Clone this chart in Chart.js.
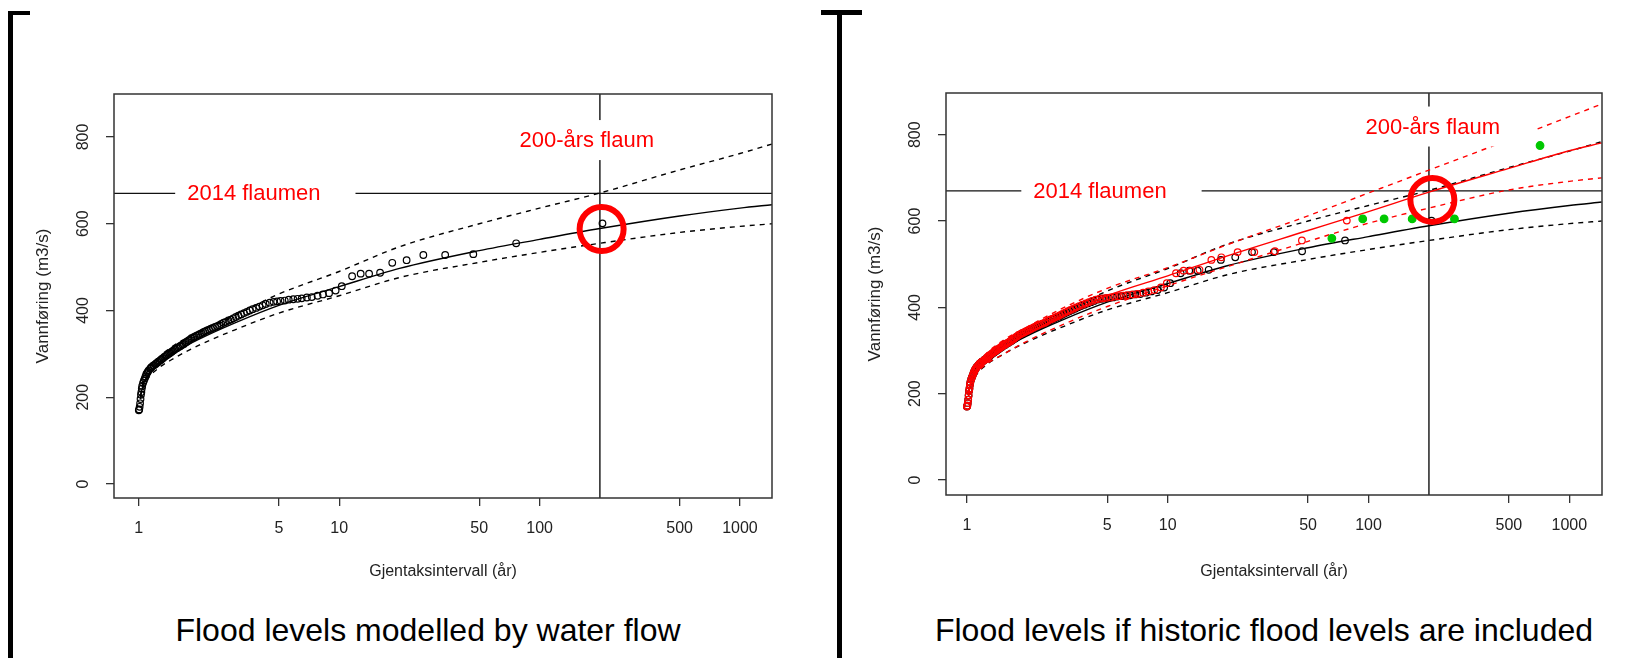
<!DOCTYPE html>
<html lang="no">
  <head>
    <meta charset="UTF-8" />
    <title>Flaumfrekvens</title>
    <script src="https://cdn.jsdelivr.net/npm/chart.js@4.4.1/dist/chart.umd.min.js"></script>
    <style>
      body { margin: 0; width: 1644px; height: 658px; position: relative; overflow: hidden; background: #fff;
             font-family: "Liberation Sans", Arial, sans-serif; }
      .bar { position: absolute; background: #000; }
      .panel { position: absolute; top: 0; }
      .caption { position: absolute; top: 612px; width: 760px; text-align: center; font-size: 32px; line-height: 36px;
                 color: #000; white-space: nowrap; }
    </style>
  </head>
  <body>
    <!-- brackets round the two pictures -->
    <div class="bar" style="left:8px;top:11px;width:5px;height:647px"></div>
    <div class="bar" style="left:8px;top:11px;width:22px;height:4px"></div>
    <div class="bar" style="left:837px;top:10px;width:5px;height:648px"></div>
    <div class="bar" style="left:821px;top:10px;width:41px;height:5px"></div>

    <canvas id="left" class="panel" style="left:0" width="800" height="581"></canvas>
    <canvas id="right" class="panel" style="left:830px" width="800" height="581"></canvas>

    <div class="caption" style="left:48px">Flood levels modelled by water flow</div>
    <div class="caption" style="left:884px">Flood levels if historic flood levels are included</div>

    <script>
      const xTicks = [1, 5, 10, 50, 100, 500, 1000];
      const yTicks = [0, 200, 400, 600, 800];

      // annual maxima: return period (år) and flow (m3/s)
      const obsT = [1.00, 1.005, 1.01, 1.015, 1.02, 1.025, 1.03, 1.035, 1.04, 1.05,
                    1.06, 1.07, 1.08, 1.09, 1.10, 1.11, 1.12, 1.14, 1.15, 1.16,
                    1.18, 1.19, 1.21, 1.22, 1.24, 1.25, 1.27, 1.29, 1.30, 1.32,
                    1.34, 1.36, 1.38, 1.40, 1.42, 1.44, 1.46, 1.48, 1.50, 1.52,
                    1.55, 1.57, 1.60, 1.62, 1.65, 1.68, 1.71, 1.74, 1.77, 1.80,
                    1.83, 1.87, 1.90, 1.94, 1.98, 2.02, 2.06, 2.10, 2.14, 2.19,
                    2.24, 2.29, 2.34, 2.40, 2.46, 2.52, 2.58, 2.65, 2.72, 2.80,
                    2.88, 2.96, 3.05, 3.14, 3.24, 3.35, 3.46, 3.58, 3.70, 3.85,
                    4.00, 4.15, 4.30, 4.50, 4.70, 4.90, 5.10, 5.35, 5.60, 5.90,
                    6.20, 6.50, 6.90, 7.30, 7.80, 8.30, 8.90, 9.60, 10.3, 11.6,
                    12.8, 14.1, 16.0, 18.4, 21.7, 26.3, 33.8, 46.7, 76.4, 206];
      const obsQ = [170, 172, 178, 186, 196, 206, 212, 220, 226, 233,
                    238, 243, 248, 253, 256, 259, 262, 266, 268, 270,
                    273, 274, 276, 278, 280, 282, 284, 286, 288, 290,
                    293, 295, 297, 299, 301, 303, 305, 307, 309, 311,
                    313, 315, 317, 319, 321, 323, 326, 328, 331, 333,
                    336, 338, 340, 342, 344, 346, 348, 350, 352, 354,
                    356, 358, 360, 362, 364, 366, 369, 372, 374, 377,
                    379, 382, 385, 388, 391, 394, 397, 400, 403, 406,
                    409, 412, 415, 418, 420, 421, 422, 423, 425, 426,
                    427, 428, 430, 431, 434, 437, 440, 446, 456, 479,
                    485, 485, 487, 510, 516, 528, 528, 530, 555, 601];
      // same flows, return period when the historic floods are included
      const obsHistT = [1.00, 1.005, 1.01, 1.015, 1.02, 1.025, 1.03, 1.035, 1.04, 1.05,
                        1.06, 1.07, 1.08, 1.09, 1.10, 1.11, 1.12, 1.14, 1.15, 1.16,
                        1.18, 1.19, 1.21, 1.22, 1.24, 1.25, 1.27, 1.28, 1.29, 1.31,
                        1.33, 1.35, 1.37, 1.39, 1.41, 1.43, 1.45, 1.47, 1.49, 1.51,
                        1.54, 1.56, 1.59, 1.61, 1.64, 1.67, 1.70, 1.72, 1.75, 1.78,
                        1.81, 1.85, 1.88, 1.92, 1.96, 2.00, 2.04, 2.08, 2.12, 2.16,
                        2.21, 2.26, 2.31, 2.37, 2.43, 2.48, 2.54, 2.61, 2.68, 2.75,
                        2.83, 2.91, 2.99, 3.08, 3.18, 3.28, 3.39, 3.50, 3.62, 3.76,
                        3.91, 4.05, 4.20, 4.39, 4.58, 4.77, 4.96, 5.20, 5.44, 5.72,
                        6.01, 6.29, 6.68, 7.06, 7.54, 8.01, 8.58, 9.25, 9.90, 11.0,
                        12.0, 13.0, 14.4, 16.5, 18.5, 22.3, 27.0, 34.2, 46.6, 78.0];
      // historic floods
      const histT = [65.7, 93.6, 119.6, 165, 268, 715];
      const histQ = [560, 605, 605, 605, 605, 775];

      // fitted curves with confidence bands
      const fitT = [1.02, 1.05, 1.1, 1.2, 1.5, 2, 3, 5, 10, 20, 50, 100, 200, 500, 1000, 1450];
      const fitQ = [200, 228, 248, 270, 303, 334, 371, 412, 455, 497, 538, 564, 589, 618, 636, 644];
      const fitUpper = [205, 235, 258, 282, 320, 350, 388, 438, 490, 547, 600, 636, 671, 724, 762, 784];
      const fitLower = [195, 221, 240, 260, 290, 320, 355, 394, 434, 476, 511, 534, 555, 580, 594, 600];
      const histFitQ = [200, 230, 252, 272, 305, 338, 380, 427, 473, 520, 578, 622, 667, 722, 763, 781];
      const histFitUpper = [205, 238, 262, 285, 322, 355, 398, 444, 492, 546, 612, 665, 718, 788, 842, 871];
      const histFitLower = [195, 222, 242, 262, 290, 322, 360, 402, 450, 495, 553, 595, 630, 672, 692, 700];

      const flood2014 = 670;
      const returnPeriod = 200;
      const ringT = [204, 208];
      const ringQ = [588, 649];

      const noteText = ["2014 flaumen", "200-års flaum"];
      const leftNoteT = [3.75, 172];
      const leftNoteQ = [670, 793];
      const rightNoteT = [4.6, 209];
      const rightNoteQ = [669, 819];

      Chart.defaults.font.family = '"Liberation Sans", Arial, sans-serif';
      Chart.defaults.color = "#222";

      const pts = (xs, ys) => xs.map((x, i) => ({ x: x, y: ys[i] }));

      function line(data, color, dash, order) {
        return { data: data, showLine: true, borderColor: color, borderWidth: 1.4, borderDash: dash,
                 pointRadius: 0, cubicInterpolationMode: "monotone", order: order };
      }
      function dots(xs, ys, color, order, radius, fill, width) {
        return { data: pts(xs, ys), showLine: false, pointRadius: radius, pointBorderWidth: width || 1.2,
                 pointBorderColor: color, pointBackgroundColor: fill ? color : "rgba(0,0,0,0)", order: order };
      }

      // red notes on a white box, like the R legend
      const notePlugin = {
        id: "notes",
        afterDatasetsDraw(chart, args, opts) {
          const ctx = chart.ctx;
          ctx.save();
          ctx.font = '22px "Liberation Sans", Arial, sans-serif';
          ctx.textAlign = "center";
          ctx.textBaseline = "middle";
          opts.t.forEach((t, i) => {
            const cx = chart.scales.x.getPixelForValue(t);
            const cy = chart.scales.y.getPixelForValue(opts.q[i]);
            const w = ctx.measureText(noteText[i]).width;
            ctx.fillStyle = "#fff";
            ctx.fillRect(cx - w / 2 - 12, cy - 20, w + 47, 40);
            ctx.fillStyle = "#ff0000";
            ctx.fillText(noteText[i], cx, cy + 1);
          });
          ctx.restore();
        },
      };
      const boxPlugin = {
        id: "plotBox",
        afterDraw(chart) {
          const a = chart.chartArea, ctx = chart.ctx;
          ctx.save();
          ctx.strokeStyle = "#333";
          ctx.lineWidth = 1.5;
          ctx.strokeRect(a.left, a.top, a.right - a.left, a.bottom - a.top);
          ctx.restore();
        },
      };

      function makeChart(id, g, datasets, noteT, noteQ) {
        const canvas = document.getElementById(id);
        const xMin = g.xMin, xMax = g.xMax, yMin = g.yMin, yMax = g.yMax;
        datasets.push(line([{ x: xMin, y: flood2014 }, { x: xMax, y: flood2014 }], "#111", [], 20));
        datasets.push(line([{ x: returnPeriod, y: yMin }, { x: returnPeriod, y: yMax }], "#111", [], 20));
        return new Chart(canvas, {
          type: "scatter",
          data: { datasets: datasets },
          options: {
            responsive: false,
            animation: false,
            layout: { padding: { top: g.top, right: canvas.width - g.right, left: 0, bottom: 0 } },
            plugins: { legend: { display: false }, tooltip: { enabled: false }, notes: { t: noteT, q: noteQ } },
            scales: {
              x: {
                type: "logarithmic",
                min: xMin,
                max: xMax,
                afterBuildTicks: (s) => { s.ticks = xTicks.map((v) => ({ value: v })); },
                afterFit: (s) => { s.height = canvas.height - g.bottom; },
                grid: { drawOnChartArea: false, tickLength: 8, color: "#333", lineWidth: 1.3 },
                border: { display: false },
                ticks: { autoSkip: false, maxRotation: 0, padding: 13, font: { size: 16 }, callback: (v) => String(v) },
                title: { display: true, text: "Gjentaksintervall (år)", font: { size: 16 }, padding: 0 },
              },
              y: {
                min: yMin,
                max: yMax,
                afterBuildTicks: (s) => { s.ticks = yTicks.map((v) => ({ value: v })); },
                afterFit: (s) => { s.width = g.left; },
                grid: { drawOnChartArea: false, tickLength: 8, color: "#333", lineWidth: 1.3 },
                border: { display: false },
                ticks: { minRotation: 90, maxRotation: 90, crossAlign: "center", padding: 9, font: { size: 16 } },
                title: { display: true, text: "Vannføring (m3/s)", font: { size: 17 },
                         padding: { top: g.left - 71 - 10.2, bottom: 0 } },
              },
            },
          },
          plugins: [notePlugin, boxPlugin],
        });
      }

      makeChart("left",
        { left: 114, right: 778, top: 94, bottom: 498, xMin: 0.752, xMax: 1445, yMin: -32.3, yMax: 899.2 },
        [
          dots([ringT[0]], [ringQ[0]], "#ff0000", 0, 22, false, 6),
          dots(obsT, obsQ, "#000", 5, 3.3, false),
          line(pts(fitT, fitQ), "#000", [], 10),
          line(pts(fitT, fitUpper), "#000", [5, 5], 10),
          line(pts(fitT, fitLower), "#000", [5, 5], 10),
        ],
        leftNoteT, leftNoteQ);

      makeChart("right",
        { left: 116, right: 778, top: 93, bottom: 495, xMin: 0.787, xMax: 1455, yMin: -34.8, yMax: 896.7 },
        [
          dots([ringT[1]], [ringQ[1]], "#ff0000", 0, 22, false, 6),
          dots(histT, histQ, "#00c800", 1, 3.8, true),
          dots(obsHistT, obsQ, "#ff0000", 3, 3.3, false),
          line(pts(fitT, histFitQ), "#ff0000", [], 4),
          line(pts(fitT, histFitUpper), "#ff0000", [5, 5], 4),
          line(pts(fitT, histFitLower), "#ff0000", [5, 5], 4),
          dots(obsT, obsQ, "#000", 6, 3.3, false),
          line(pts(fitT, fitQ), "#000", [], 10),
          line(pts(fitT, fitUpper), "#000", [5, 5], 10),
          line(pts(fitT, fitLower), "#000", [5, 5], 10),
        ],
        rightNoteT, rightNoteQ);
    </script>
  </body>
</html>
